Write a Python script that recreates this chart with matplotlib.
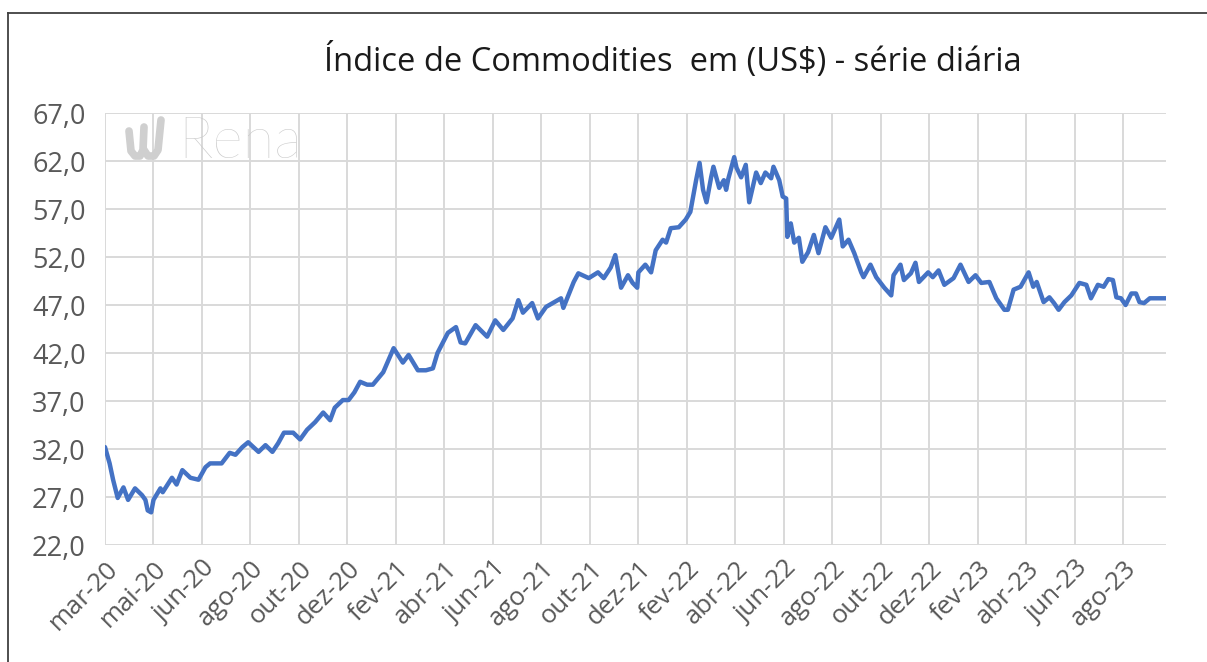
import matplotlib
matplotlib.use("Agg")
import matplotlib.pyplot as plt
from matplotlib.lines import Line2D

# pregões desde o início da série (eixo de categorias do Excel) e valor do índice
dias = [0, 4, 7, 11, 16, 20, 26, 32, 35, 37, 40, 42, 48, 50, 58, 62, 67, 74, 81, 87,
        91, 101, 108, 113, 119, 124, 133, 139, 145, 150, 155, 163, 169, 175, 182, 189, 195, 199, 206, 211,
        216, 221, 227, 232, 241, 250, 258, 263, 271, 278, 284, 288, 297, 304, 308, 312, 321, 331, 338, 345,
        353, 358, 362, 370, 375, 382, 395, 397, 406, 410, 419, 427, 432, 438, 442, 447, 453, 457, 461, 462,
        468, 473, 477, 483, 486, 490, 497, 503, 507, 512, 515, 518, 521, 525, 527, 532, 536, 538, 540, 545,
        547, 551, 555, 558, 564, 568, 572, 577, 579, 584, 587, 590, 591, 594, 597, 601, 604, 609, 614, 618,
        624, 629, 636, 639, 644, 649, 655, 657, 663, 668, 675, 681, 683, 689, 692, 698, 702, 705, 713, 717,
        722, 727, 735, 741, 748, 754, 759, 766, 772, 779, 782, 787, 793, 800, 804, 807, 813, 818, 822, 826,
        831, 837, 844, 850, 854, 860, 865, 869, 873, 876, 880, 884, 889, 893, 896, 900, 905, 919]
indice = [32.2, 30.5, 28.8, 26.9, 28.0, 26.7, 27.9, 27.2, 26.7, 25.6, 25.4, 26.7, 27.9, 27.5, 29.0, 28.3, 29.8, 29.0, 28.8, 30.1,
          30.5, 30.5, 31.6, 31.4, 32.2, 32.7, 31.7, 32.4, 31.7, 32.6, 33.7, 33.7, 33.0, 34.0, 34.8, 35.8, 35.0, 36.3, 37.1, 37.1,
          37.9, 39.0, 38.7, 38.7, 40.0, 42.5, 41.0, 41.8, 40.2, 40.2, 40.4, 42.0, 44.1, 44.7, 43.1, 43.0, 44.9, 43.7, 45.4, 44.4,
          45.6, 47.5, 46.2, 47.2, 45.6, 46.8, 47.7, 46.7, 49.4, 50.3, 49.8, 50.4, 49.8, 50.9, 52.2, 48.8, 50.1, 49.3, 48.8, 50.4,
          51.2, 50.4, 52.7, 53.8, 53.5, 55.0, 55.1, 55.9, 56.7, 60.0, 61.8, 59.0, 57.7, 60.3, 61.4, 59.2, 60.0, 59.0, 60.2, 62.4,
          61.3, 60.3, 61.6, 57.7, 60.8, 59.7, 60.8, 60.2, 61.4, 60.0, 58.3, 58.1, 54.1, 55.5, 53.5, 54.0, 51.5, 52.5, 54.3, 52.4,
          55.1, 54.0, 55.9, 53.1, 53.8, 52.4, 50.4, 49.9, 51.2, 49.9, 48.8, 48.0, 50.1, 51.2, 49.6, 50.3, 51.4, 49.4, 50.4, 49.9,
          50.6, 49.1, 49.8, 51.2, 49.4, 50.1, 49.3, 49.4, 47.7, 46.5, 46.5, 48.6, 48.9, 50.4, 48.9, 49.4, 47.3, 47.8, 47.2, 46.5,
          47.3, 48.0, 49.3, 49.1, 47.7, 49.1, 48.9, 49.7, 49.6, 47.8, 47.7, 47.0, 48.2, 48.2, 47.3, 47.2, 47.7, 47.7]

rotulos_x = ["mar-20", "mai-20", "jun-20", "ago-20", "out-20", "dez-20", "fev-21", "abr-21",
             "jun-21", "ago-21", "out-21", "dez-21", "fev-22", "abr-22", "jun-22", "ago-22",
             "out-22", "dez-22", "fev-23", "abr-23", "jun-23", "ago-23"]
intervalo_rotulos = 42  # pregões entre rótulos
valores_y = [22, 27, 32, 37, 42, 47, 52, 57, 62, 67]

W, H = 1207, 662
fig = plt.figure(figsize=(W / 100, H / 100), dpi=100)
ax = fig.add_axes([105 / W, 1 - 545 / H, (1166 - 105) / W, (545 - 113) / H])

ax.plot(dias, indice, color="#4472c4", linewidth=3.2, solid_joinstyle="round",
        solid_capstyle="round", zorder=3)

ax.set_xlim(0, 919)
ax.set_ylim(valores_y[0], valores_y[-1])
ax.set_xticks([i * intervalo_rotulos for i in range(len(rotulos_x))])
ax.set_xticklabels(rotulos_x, rotation=45, ha="right", va="top", rotation_mode="anchor",
                   fontsize=18.5, color="#595959", family="Open Sans")
ax.set_yticks(valores_y)
ax.set_yticklabels([f"{v:.1f}".replace(".", ",") for v in valores_y],
                   fontsize=19.5, color="#595959", family="Open Sans")
ax.tick_params(length=0)
ax.tick_params(axis="y", pad=14)
ax.tick_params(axis="x", pad=8)
ax.grid(True, color="#d9d9d9", linewidth=1.4)
ax.set_axisbelow(True)
for s in ax.spines.values():
    s.set_visible(False)


def px(x, y):
    # pixel da figura -> coordenadas do eixo (só para o logotipo)
    return (x - 105) / 1061, (545 - y) / 432


# marca d'água: símbolo + "Rena"
for trecho in ([(129, 131), (131, 151), (135, 156), (140, 156), (143, 150), (144, 127)],
               [(144, 150), (148, 156), (154, 156), (158, 150), (161, 120)]):
    xs, ys = zip(*[px(a, b) for a, b in trecho])
    ax.plot(xs, ys, transform=ax.transAxes, color="#cfcfcf", linewidth=5.5,
            solid_capstyle="round", solid_joinstyle="round", zorder=1)
ax.text(*px(178, 142), "Rena", transform=ax.transAxes, fontsize=42, color="#cacaca",
        fontweight="light", va="center", ha="left", family="Lato", zorder=1)

fig.text(673 / W, 1 - 61 / H, "Índice de Commodities  em (US$) - série diária",
         ha="center", va="center", fontsize=23.5, color="#1a1a1a", family="Open Sans")

# moldura do gráfico (só topo e esquerda aparecem no recorte)
fig.add_artist(Line2D([7.5 / W, 1], [1 - 12.5 / H, 1 - 12.5 / H], color="#404040", linewidth=1.3))
fig.add_artist(Line2D([7.5 / W, 7.5 / W], [0, 1 - 12.5 / H], color="#404040", linewidth=1.3))

fig.savefig("out.png", dpi=100)
